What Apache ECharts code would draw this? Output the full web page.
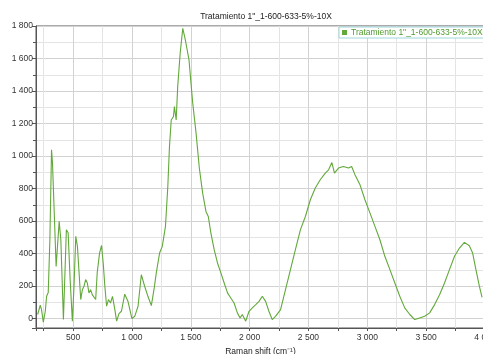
<!DOCTYPE html>
<html>
<head>
<meta charset="utf-8">
<script src="https://cdn.jsdelivr.net/npm/echarts@6/dist/echarts.min.js"></script>
<style>html,body{margin:0;padding:0;background:#fff}#c{width:483px;height:354px}</style>
</head>
<body>
<div id="c"></div>
<script>
var titleText = 'Tratamiento 1"_1-600-633-5%-10X';
var seriesName = 'Tratamiento 1"_1-600-633-5%-10X';
var xTitle = 'Raman shift (cm\u207B\u00B9)';
var ramanShift = [199,221,232,247,264,275,289,303,317,325,340,356,382,396,418,443,458,475,494,508,523,537,551,565,579,593,607,621,635,649,663,677,692,705,725,742,756,770,785,801,818,835,855,870,890,911,939,967,1000,1024,1052,1080,1108,1136,1165,1190,1207,1235,1258,1285,1305,1319,1334,1353,1361,1376,1389,1410,1432,1440,1454,1485,1516,1545,1573,1601,1629,1649,1671,1699,1727,1756,1784,1812,1840,1868,1896,1919,1938,1967,1995,2023,2052,2080,2108,2136,2164,2192,2220,2263,2305,2347,2389,2432,2474,2516,2558,2600,2643,2671,2699,2721,2755,2797,2840,2867,2896,2938,2980,3023,3065,3107,3149,3192,3234,3276,3318,3361,3403,3445,3487,3530,3572,3614,3656,3698,3741,3783,3825,3867,3895,3923,3952,3975];
var intensity = [25,82,55,-22,45,137,160,485,1038,958,651,321,598,485,-6,547,528,240,-16,199,506,444,282,117,178,199,240,219,158,178,147,158,117,282,403,450,342,199,76,117,96,137,55,-16,30,45,150,105,0,14,76,270,199,137,80,190,281,403,444,567,813,1058,1222,1243,1304,1222,1427,1632,1786,1796,1714,1591,1330,1141,925,772,659,628,526,424,342,281,219,158,127,96,35,4,25,-16,45,66,86,106,137,106,45,-6,14,55,178,301,424,547,628,731,803,854,895,915,960,895,926,936,926,936,884,823,731,649,567,485,383,301,219,137,66,25,-6,4,14,35,86,147,219,301,383,434,469,448,403,301,199,130];

var data = ramanShift.map(function(x,i){return [x,intensity[i]];});
function fmt(v){ var s=String(Math.round(v)); return s.replace(/\B(?=(\d{3})+(?!\d))/g,' '); }
var lineColor = '#62a83a';
var chart = echarts.init(document.getElementById('c'));
chart.setOption({
  animation:false,
  backgroundColor:'#fff',
  textStyle:{fontFamily:'Liberation Sans, Arial, sans-serif'},
  title:{text:titleText,left:261,top:7,textAlign:'center',textStyle:{fontSize:8.5,fontWeight:'normal',color:'#222'}},
  legend:{data:[seriesName],left:339,top:27,icon:'rect',itemWidth:5,itemHeight:5,itemGap:3,padding:[1,3,1,3],
    borderColor:'#9fd6dc',borderWidth:1,backgroundColor:'#fff',textStyle:{fontSize:8.5,color:'#4f9a2c',padding:[0,0,0,-1]}},
  grid:{left:36,right:-2,top:26,bottom:26,show:true,borderColor:'#555',borderWidth:1,containLabel:false,outerBoundsMode:'none'},
  xAxis:{type:'value',min:185,max:4000,splitNumber:8,
    name:xTitle,nameLocation:'middle',nameGap:14,nameTextStyle:{fontSize:8.5,color:'#222'},
    axisLine:{show:true,onZero:false,lineStyle:{color:'#555'}},
    axisTick:{show:true,length:3,lineStyle:{color:'#555'}},
    minorTick:{show:true,splitNumber:2,length:3,lineStyle:{color:'#555'}},
    axisLabel:{fontSize:8.5,color:'#333',margin:5,showMinLabel:false,formatter:fmt},
    splitLine:{show:true,lineStyle:{color:'#d2d2d2'}},
    minorSplitLine:{show:true,lineStyle:{color:'#e4e4e4'}}},
  yAxis:{type:'value',min:-58,max:1800,splitNumber:9,
    axisLine:{show:true,lineStyle:{color:'#555'}},
    axisTick:{show:true,length:4,lineStyle:{color:'#555'}},
    minorTick:{show:true,splitNumber:2,length:3,lineStyle:{color:'#555'}},
    axisLabel:{fontSize:8.5,color:'#333',margin:3,showMinLabel:false,formatter:fmt},
    splitLine:{show:true,lineStyle:{color:'#d2d2d2'}},
    minorSplitLine:{show:true,lineStyle:{color:'#e4e4e4'}}},
  series:[{name:seriesName,type:'line',data:data,showSymbol:false,smooth:false,
    lineStyle:{color:lineColor,width:1.1},itemStyle:{color:lineColor},clip:true}]
});
</script>
</body>
</html>
